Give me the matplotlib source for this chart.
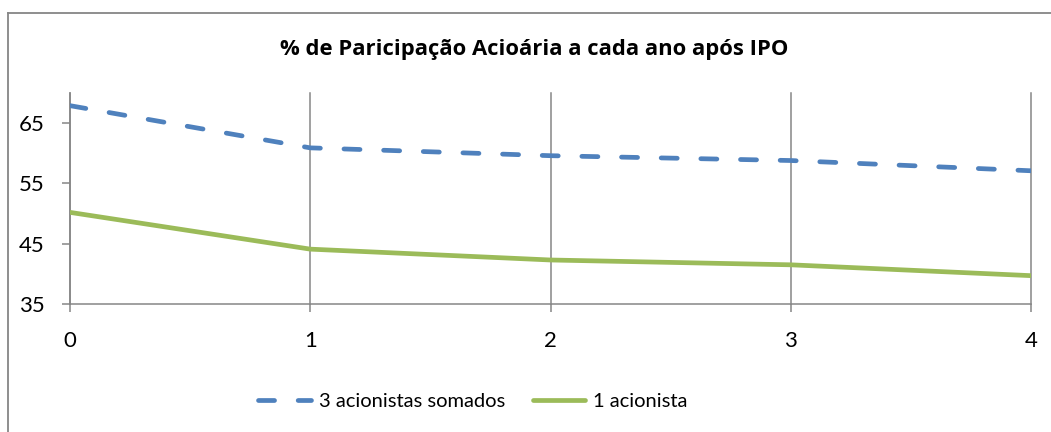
import matplotlib
matplotlib.use("Agg")
import matplotlib.pyplot as plt
from matplotlib.lines import Line2D

plt.rcParams['font.family'] = ['Lato', 'DejaVu Sans']

years = [0, 1, 2, 3, 4]
tres_acionistas = [67.9, 60.9, 59.6, 58.8, 57.1]
um_acionista = [50.2, 44.1, 42.3, 41.5, 39.7]
y_ticks = [35, 45, 55, 65]
title = "% de Paricipação Acioária a cada ano após IPO"
labels = ["3 acionistas somados", "1 acionista"]

blue = "#4F81BD"
green = "#9BBB59"
gray = "#868686"

fig = plt.figure(figsize=(10.51, 4.32), dpi=100)
ax = fig.add_axes([70/1051, 1-304/432, (1031-70)/1051, (304-93)/432])

ax.plot(years, tres_acionistas, color=blue, lw=3.4, linestyle=(0, (3.4, 5.0)),
        dash_capstyle='round', label=labels[0], zorder=3)
ax.plot(years, um_acionista, color=green, lw=3.4, solid_capstyle='round',
        label=labels[1], zorder=3)

ax.set_xlim(0, 4)
ax.set_ylim(35, 70)
ax.set_xticks(years)
ax.set_yticks(y_ticks)
ax.tick_params(axis='both', colors=gray, width=1.1, length=5.5, labelsize=16,
               labelcolor='black', pad=13)
ax.tick_params(axis='x', pad=14)
for s in ['top', 'right']:
    ax.spines[s].set_visible(False)
for s in ['left', 'bottom']:
    ax.spines[s].set_color(gray)
    ax.spines[s].set_linewidth(1.1)
ax.xaxis.grid(True, color=gray, lw=1.1)
ax.grid(False, axis='y')
for gl in ax.get_xgridlines():
    gl.set_clip_on(False)

fig.text(534/1051, 1-49/432, title, ha='center', va='center', fontsize=15.8,
         fontweight='bold', family=['Open Sans', 'DejaVu Sans'])

leg = fig.legend(loc='center', bbox_to_anchor=(473/1051, 1-401/432), ncol=2,
                 frameon=False, fontsize=14.5, handlelength=2.6, handletextpad=0.4,
                 columnspacing=1.4)

# chart-area border (top and left visible)
fig.add_artist(Line2D([7.5/1051, 7.5/1051], [0, 1-13/432], color=gray, lw=1.3,
                      transform=fig.transFigure))
fig.add_artist(Line2D([7.5/1051, 1], [1-13/432, 1-13/432], color=gray, lw=1.3,
                      transform=fig.transFigure))

fig.savefig("out.png", dpi=100, facecolor='white')
